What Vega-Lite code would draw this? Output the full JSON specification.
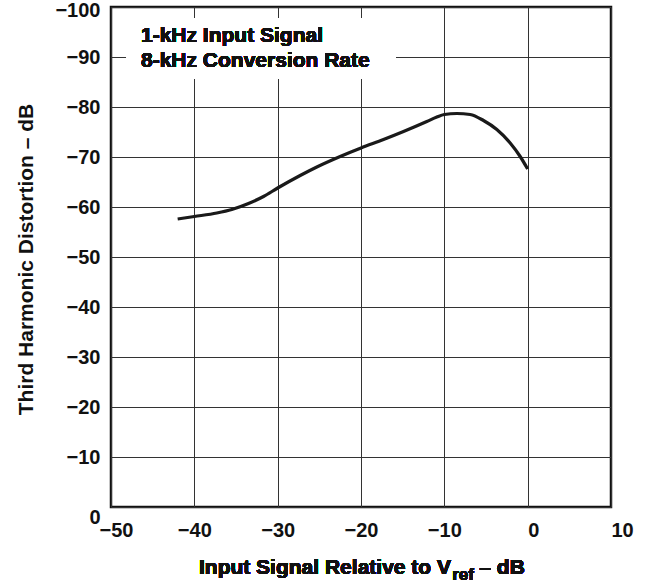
{
  "$schema": "https://vega.github.io/schema/vega-lite/v6.json",
  "width": 500,
  "height": 500,
  "autosize": "none",
  "padding": {"left": 111, "top": 7, "right": 37, "bottom": 76},
  "background": "white",
  "config": {
    "font": "Liberation Sans",
    "view": {"stroke": "#111", "strokeWidth": 2.5},
    "axis": {
      "domain": false,
      "ticks": false,
      "grid": true,
      "gridColor": "#333",
      "gridOpacity": 1,
      "gridWidth": 1,
      "labelFont": "Liberation Sans",
      "labelFontWeight": "bold",
      "labelFontSize": 20,
      "labelColor": "#111",
      "titleFont": "Liberation Sans",
      "titleFontWeight": "bold",
      "titleFontSize": 21,
      "titleColor": "#111"
    }
  },
  "data": {
    "values": [
      {"x": -42, "y": -57.6},
      {"x": -40, "y": -58.1},
      {"x": -37.3, "y": -58.8},
      {"x": -35.5, "y": -59.5},
      {"x": -33.5, "y": -60.7},
      {"x": -31.7, "y": -62.1},
      {"x": -30, "y": -63.8},
      {"x": -27.3, "y": -66.3},
      {"x": -25.3, "y": -68.0},
      {"x": -22.5, "y": -70.1},
      {"x": -20, "y": -71.8},
      {"x": -17.3, "y": -73.5},
      {"x": -14.9, "y": -75.1},
      {"x": -12.1, "y": -77.1},
      {"x": -10.9, "y": -78.0},
      {"x": -10, "y": -78.5},
      {"x": -8.5, "y": -78.7},
      {"x": -6.9, "y": -78.5},
      {"x": -5.3, "y": -77.3},
      {"x": -3.7, "y": -75.5},
      {"x": -2.1, "y": -72.8},
      {"x": -0.9, "y": -70.1},
      {"x": 0, "y": -67.6}
    ]
  },
  "layer": [
    {
      "mark": {"type": "line", "color": "#1a1a1a", "strokeWidth": 3.2, "interpolate": "monotone"},
      "encoding": {
        "x": {
          "field": "x", "type": "quantitative",
          "scale": {"domain": [-50, 10], "nice": false, "zero": false},
          "axis": {
            "values": [-50, -40, -30, -20, -10, 0, 10],
            "labelPadding": 13,
            "labelFlush": false,
            "labelAlign": {"condition": {"test": "datum.value >= 0", "value": "left"}, "value": "center"},
            "labelOffset": {"condition": {"test": "datum.value == -50", "value": 5}, "value": 0},
            "title": null
          }
        },
        "y": {
          "field": "y", "type": "quantitative",
          "scale": {"domain": [-100, 0], "reverse": true, "nice": false, "zero": false},
          "axis": {
            "values": [-100, -90, -80, -70, -60, -50, -40, -30, -20, -10, 0],
            "labelPadding": 11,
            "labelOffset": {"condition": {"test": "datum.value == -100", "value": 3}, "value": 0},
            "labelBaseline": {"condition": {"test": "datum.value == 0", "value": "top"}, "value": "middle"},
            "title": "Third Harmonic Distortion \u2013 dB",
            "titleBaseline": "alphabetic",
            "titleY": 252,
            "titleX": -79
          }
        }
      }
    },
    {
      "mark": {"type": "rect", "fill": "white", "stroke": null},
      "encoding": {
        "x": {"datum": -48.1},
        "x2": {"datum": -15.8},
        "y": {"datum": -97.8},
        "y2": {"datum": -85.6}
      }
    },
    {
      "mark": {"type": "text", "align": "left", "baseline": "alphabetic", "font": "Liberation Sans", "fontWeight": "bold", "fontSize": 21, "color": "#111"},
      "encoding": {
        "x": {"datum": -46.4},
        "y": {"datum": -93.1},
        "text": {"value": "1-kHz Input Signal"}
      }
    },
    {
      "mark": {"type": "text", "align": "left", "baseline": "alphabetic", "font": "Liberation Sans", "fontWeight": "bold", "fontSize": 21, "color": "#111"},
      "encoding": {
        "x": {"datum": -46.4},
        "y": {"datum": -88.0},
        "text": {"value": "8-kHz Conversion Rate"}
      }
    },
    {
      "mark": {"type": "text", "align": "right", "baseline": "alphabetic", "font": "Liberation Sans", "fontWeight": "bold", "fontSize": 21, "color": "#111"},
      "encoding": {
        "x": {"datum": -9.2},
        "y": {"datum": 13.3},
        "text": {"value": "Input Signal Relative to V"}
      }
    },
    {
      "mark": {"type": "text", "align": "left", "baseline": "alphabetic", "font": "Liberation Sans", "fontWeight": "bold", "fontSize": 17, "color": "#111"},
      "encoding": {
        "x": {"datum": -9.05},
        "y": {"datum": 14.5},
        "text": {"value": "ref"}
      }
    },
    {
      "mark": {"type": "text", "align": "left", "baseline": "alphabetic", "font": "Liberation Sans", "fontWeight": "bold", "fontSize": 21, "color": "#111"},
      "encoding": {
        "x": {"datum": -5.8},
        "y": {"datum": 13.3},
        "text": {"value": "\u2013 dB"}
      }
    }
  ]
}
